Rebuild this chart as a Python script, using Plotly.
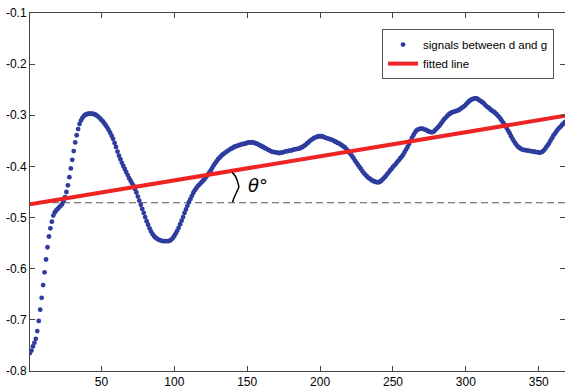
import plotly.graph_objects as go

# ---- data (one sample per x = 1..368) ----
sig_x = list(range(1, 369))
sig_y = [
    # 1-40
    -0.765, -0.760, -0.752, -0.745, -0.737, -0.722, -0.702, -0.680, -0.657, -0.632,
    -0.607, -0.582, -0.558, -0.537, -0.521, -0.508, -0.496, -0.490, -0.486, -0.483,
    -0.480, -0.477, -0.474, -0.468, -0.460, -0.450, -0.437, -0.421, -0.404, -0.387,
    -0.370, -0.353, -0.339, -0.327, -0.317, -0.310, -0.305, -0.301, -0.299, -0.298,
    # 41-80
    -0.297, -0.297, -0.297, -0.297, -0.298, -0.299, -0.301, -0.303, -0.306, -0.309,
    -0.312, -0.316, -0.320, -0.324, -0.329, -0.334, -0.340, -0.346, -0.354, -0.362,
    -0.371, -0.379, -0.386, -0.393, -0.399, -0.405, -0.411, -0.417, -0.423, -0.428,
    -0.433, -0.438, -0.444, -0.451, -0.459, -0.467, -0.475, -0.483, -0.491, -0.499,
    # 81-120
    -0.507, -0.514, -0.521, -0.527, -0.532, -0.536, -0.539, -0.541, -0.543, -0.544,
    -0.545, -0.546, -0.546, -0.546, -0.546, -0.546, -0.545, -0.543, -0.540, -0.536,
    -0.531, -0.526, -0.520, -0.513, -0.506, -0.499, -0.491, -0.484, -0.477, -0.470,
    -0.464, -0.458, -0.452, -0.447, -0.443, -0.439, -0.436, -0.433, -0.430, -0.427,
    # 121-160
    -0.424, -0.420, -0.416, -0.412, -0.408, -0.403, -0.398, -0.394, -0.390, -0.386,
    -0.383, -0.380, -0.377, -0.375, -0.373, -0.371, -0.369, -0.367, -0.365, -0.364,
    -0.362, -0.361, -0.360, -0.359, -0.358, -0.357, -0.356, -0.356, -0.355, -0.354,
    -0.353, -0.353, -0.353, -0.353, -0.354, -0.355, -0.356, -0.358, -0.359, -0.361,
    # 161-200
    -0.362, -0.364, -0.365, -0.367, -0.368, -0.370, -0.371, -0.372, -0.372, -0.373,
    -0.373, -0.374, -0.373, -0.373, -0.372, -0.371, -0.370, -0.370, -0.369, -0.369,
    -0.368, -0.367, -0.366, -0.366, -0.365, -0.365, -0.363, -0.362, -0.360, -0.358,
    -0.355, -0.353, -0.350, -0.348, -0.346, -0.344, -0.343, -0.342, -0.341, -0.341,
    # 201-240
    -0.341, -0.342, -0.343, -0.344, -0.345, -0.346, -0.347, -0.348, -0.349, -0.351,
    -0.352, -0.354, -0.355, -0.357, -0.359, -0.361, -0.363, -0.366, -0.369, -0.373,
    -0.376, -0.380, -0.384, -0.389, -0.393, -0.397, -0.401, -0.405, -0.409, -0.413,
    -0.416, -0.419, -0.422, -0.424, -0.426, -0.428, -0.429, -0.430, -0.431, -0.431,
    # 241-280
    -0.430, -0.428, -0.425, -0.422, -0.419, -0.415, -0.412, -0.408, -0.405, -0.401,
    -0.398, -0.395, -0.391, -0.388, -0.384, -0.381, -0.377, -0.372, -0.367, -0.362,
    -0.356, -0.350, -0.344, -0.339, -0.334, -0.330, -0.328, -0.327, -0.326, -0.326,
    -0.327, -0.328, -0.329, -0.331, -0.332, -0.333, -0.333, -0.332, -0.329, -0.326,
    # 281-320
    -0.323, -0.320, -0.316, -0.312, -0.308, -0.305, -0.302, -0.299, -0.297, -0.295,
    -0.294, -0.293, -0.292, -0.291, -0.290, -0.288, -0.286, -0.284, -0.282, -0.279,
    -0.276, -0.273, -0.271, -0.269, -0.268, -0.267, -0.267, -0.268, -0.270, -0.272,
    -0.274, -0.276, -0.279, -0.282, -0.284, -0.286, -0.289, -0.291, -0.293, -0.295,
    # 321-360
    -0.298, -0.301, -0.304, -0.308, -0.312, -0.316, -0.320, -0.325, -0.330, -0.335,
    -0.341, -0.346, -0.351, -0.355, -0.359, -0.362, -0.364, -0.366, -0.367, -0.368,
    -0.368, -0.369, -0.369, -0.370, -0.370, -0.371, -0.371, -0.372, -0.372, -0.373,
    -0.373, -0.372, -0.370, -0.367, -0.363, -0.359, -0.355, -0.350, -0.345, -0.340,
    # 361-368
    -0.336, -0.332, -0.328, -0.325, -0.322, -0.319, -0.316, -0.313,
]

fit_x = [1, 368]
fit_y = [-0.474, -0.301]

ref_x = [1, 368]
ref_y = [-0.471, -0.471]

x_ticks = [50, 100, 150, 200, 250, 300, 350]
y_ticks = [-0.8, -0.7, -0.6, -0.5, -0.4, -0.3, -0.2, -0.1]
y_labels = ["-0.8", "-0.7", "-0.6", "-0.5", "-0.4", "-0.3", "-0.2", "-0.1"]

series_names = ["signals between d and g", "fitted line"]
angle_label = "<i>θ</i>°"

FONT = "Liberation Sans, Arial, sans-serif"

fig = go.Figure()

fig.add_trace(go.Scatter(
    x=ref_x, y=ref_y, mode="lines", showlegend=False, hoverinfo="skip",
    line=dict(color="#555555", width=1.2, dash="7px,4px"),
))
fig.add_trace(go.Scatter(
    x=sig_x, y=sig_y, mode="markers", name=series_names[0],
    marker=dict(color="#2d3c9e", size=4.8, symbol="circle"),
))
fig.add_trace(go.Scatter(
    x=fit_x, y=fit_y, mode="lines", name=series_names[1],
    line=dict(color="#ee2424", width=4),
))

# angle brace
fig.add_shape(
    type="path", xref="x", yref="y",
    path="M 139.7,-0.412 C 143,-0.418 143.6,-0.432 144.3,-0.440 "
         "C 143.4,-0.448 141,-0.458 139.9,-0.470",
    line=dict(color="black", width=1.5),
)
fig.add_annotation(
    x=157.4, y=-0.438, xref="x", yref="y", text=angle_label, showarrow=False,
    font=dict(family="DejaVu Sans, Liberation Sans", size=18, color="black"),
)

axis_common = dict(
    showgrid=False, zeroline=False, showline=True, linecolor="#444444", linewidth=1,
    mirror="ticks", ticks="inside", ticklen=5, tickcolor="#444444",
    tickfont=dict(family=FONT, size=12, color="black"),
)

fig.update_xaxes(range=[1, 368], tickvals=x_ticks, **axis_common)
fig.update_yaxes(range=[-0.8, -0.1], tickvals=y_ticks, ticktext=y_labels, **axis_common)

fig.update_layout(
    width=565, height=389,
    margin=dict(l=30, r=0, t=13, b=18),
    paper_bgcolor="white", plot_bgcolor="white",
    showlegend=True,
    legend=dict(
        x=0.658, y=0.955, xanchor="left", yanchor="top",
        bgcolor="white", bordercolor="#555555", borderwidth=1,
        font=dict(family=FONT, size=11.5, color="black"),
        tracegroupgap=0, itemwidth=30,
    ),
)

fig.write_html("out.html")
